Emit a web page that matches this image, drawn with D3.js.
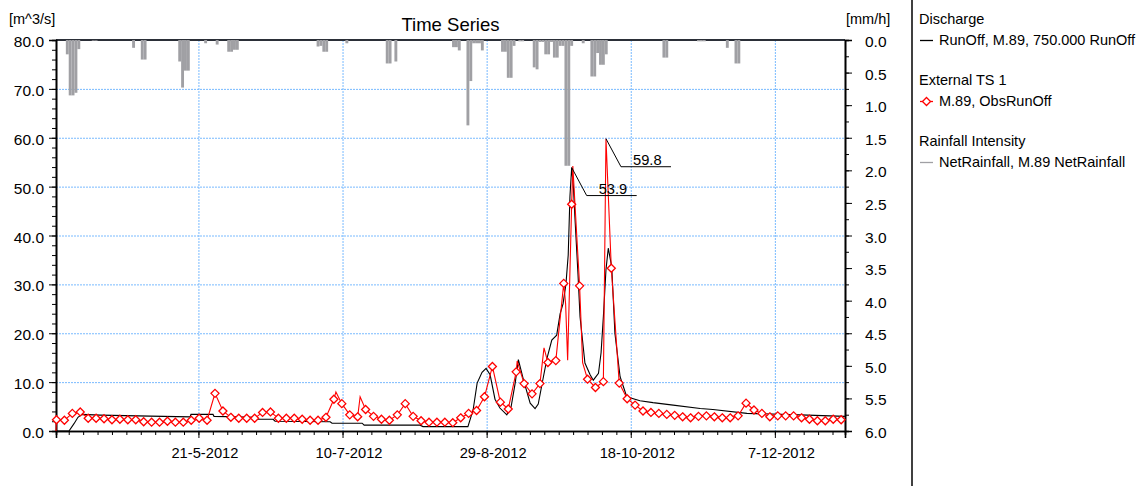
<!DOCTYPE html>
<html>
<head>
<meta charset="utf-8">
<script src="https://cdn.jsdelivr.net/npm/d3@7"></script>
<style>
body { margin: 0; background: #fff; }
svg { font-family: "Liberation Sans", Arial, sans-serif; }
.axis path, .axis line { stroke: #000; }
.axis text { font-size: 14.7px; fill: #000; }
.grid line { stroke: #78baff; stroke-dasharray: 2,1; }
</style>
</head>
<body>
<svg id="chart"></svg>
<script>
// days counted from 1-4-2012 00:00
var rainDays = [4, 5, 6, 7, 8, 13, 14, 27, 30, 31, 43, 44, 45, 46, 52, 56, 60, 61, 62, 63,
    91, 92, 93, 94, 101, 115, 116, 118, 138, 139, 140, 143, 144, 145, 146, 147, 148,
    155, 156, 157, 158, 159, 161, 162, 166, 167, 168, 169, 170, 171, 172, 173, 174, 175,
    176, 177, 178, 179, 183, 186, 187, 188, 189, 190, 191, 211, 212, 223, 224, 225, 233, 236, 237]
var rainVals = [0.22, 0.85, 0.85, 0.81, 0.14, 0.01, 0.01, 0.12, 0.30, 0.30, 0.33, 0.73, 0.47, 0.47, 0.05, 0.07, 0.18, 0.18, 0.15, 0.15,
    0.10, 0.09, 0.18, 0.18, 0.05, 0.36, 0.36, 0.33, 0.11, 0.11, 0.16, 1.31, 0.63, 0.05, 0.05, 0.05, 0.16,
    0.18, 0.18, 0.58, 0.58, 0.09, 0.02, 0.02, 0.42, 0.45, 0.03, 0.03, 0.22, 0.22, 0.03, 0.27, 0.27, 0.09,
    0.09, 1.93, 1.93, 0.09, 0.05, 0.56, 0.56, 0.20, 0.38, 0.38, 0.22, 0.27, 0.27, 0.02, 0.02, 0.02, 0.12, 0.36, 0.36]

var simDays = [0.58, 5.09, 6.83, 8.2, 9.6, 15.85, 33.2, 47.1, 47.4, 55.06, 55.4, 70.0, 70.3, 75.9, 76.6,
    95.7, 96.35, 106.8, 107.5, 126.9, 127.9, 143.5, 145.3, 146.7, 148.4, 149.8, 151.2, 152.9, 154.6,
    157.0, 158.5, 159.9, 161.0, 162.8, 165.1, 166.8, 167.9, 169.7, 171.0, 172.6, 174.3, 175.5, 176.5,
    177.5, 178.3, 178.9, 179.5, 180.1, 180.6, 181.7, 182.4, 184.1, 185.9, 187.0, 188.8, 189.7, 190.5,
    191.4, 192.2, 193.4, 194.5, 196.3, 198.6, 203.2, 207.7, 214.7, 224.1, 228.5, 240.3, 258.7, 274.3]
var simVals = [0, 0, 1.5, 2.8, 3.4, 3.25, 3.05, 2.9, 3.4, 3.4, 3.0, 2.8, 2.4, 2.4, 2.0,
    1.9, 1.6, 1.6, 1.2, 1.2, 0.9, 0.9, 4.3, 9.8, 12.0, 12.8, 11.5, 6.5, 4.7,
    3.3, 5.0, 9.8, 14.6, 10.4, 5.7, 4.6, 5.5, 11.1, 15.0, 18.6, 19.6, 24.0, 26.0,
    30.0, 36.0, 48.0, 53.9, 50.0, 44.0, 32.0, 23.4, 13.9, 11.5, 10.4, 11.8, 16.0, 23.4,
    33.0, 37.4, 33.6, 20.0, 11.1, 7.0, 6.2, 5.8, 5.3, 4.6, 4.4, 3.6, 3.3, 3.0]

// observed run-off, marker samples every 2.75 days from day 0.75
var obsStart = 0.75, obsStep = 2.75
var obsVals = [2.3, 2.2, 3.6, 3.9, 2.6, 2.6, 2.5, 2.3, 2.4, 2.3,
    2.3, 1.9, 1.8, 1.8, 2.0, 1.8, 1.8, 2.2, 2.6, 2.2,
    7.7, 4.1, 2.8, 2.6, 2.6, 2.6, 3.8, 3.9, 2.6, 2.6,
    2.6, 2.4, 2.2, 2.2, 2.8, 6.5, 5.6, 3.3, 2.9, 4.4,
    3.0, 2.4, 2.2, 3.3, 5.6, 3.0, 2.1, 1.8, 1.8, 1.8,
    1.7, 2.7, 3.6, 4.2, 7.0, 13.2, 5.9, 4.5, 12.1, 9.7,
    7.6, 9.7, 14.0, 14.4, 30.2, 46.4, 29.7, 10.6, 8.9, 10.1,
    33.3, 9.8, 6.6, 5.3, 4.1, 3.8, 3.6, 3.4, 3.2, 2.9,
    2.7, 3.0, 3.1, 2.9, 2.7, 2.7, 3.1, 5.7, 4.3, 3.6,
    2.9, 3.1, 3.1, 3.1, 2.7, 2.4, 2.1, 2.1, 2.4, 2.3]
// observed values between marker samples
var obsExtraDays = [0.58, 97.7, 106.1, 160.6, 169.9, 177.4, 178.1, 179.9, 183.3, 191.4]
var obsExtraVals = [0, 8.0, 7.0, 14.3, 17.0, 26.0, 14.5, 54.2, 14.0, 59.8]

var qTicks = [0, 10, 20, 30, 40, 50, 60, 70, 80]
var rTicks = [0, 0.5, 1, 1.5, 2, 2.5, 3, 3.5, 4, 4.5, 5, 5.5, 6]

var width = 1145, height = 486
var plotL = 56, plotR = 845, plotT = 40, plotB = 431

var svg = d3.select("#chart")
    .attr("width", width)
    .attr("height", height)

var t0 = Date.UTC(2012, 3, 1)
function day(d) { return new Date(t0 + d * 864e5) }

var x = d3.scaleUtc()
    .domain([new Date(Date.UTC(2012, 3, 1, 14)), new Date(Date.UTC(2012, 11, 31, 8))])
    .range([plotL, plotR])
var y = d3.scaleLinear().domain([0, 80]).range([plotB, plotT])
var yr = d3.scaleLinear().domain([0, 6]).range([plotT, plotB])

var majorDates = d3.range(0, 5).map(function(k) { return new Date(Date.UTC(2012, 4, 21) + k * 50 * 864e5) })
var minorDates = d3.range(-9, 45).map(function(k) { return new Date(Date.UTC(2012, 4, 21) + k * 5 * 864e5) })
    .filter(function(d) { return d >= x.domain()[0] && d <= x.domain()[1] })

// grid
var grid = svg.append("g").attr("class", "grid")
grid.selectAll("line.h")
    .data(qTicks.filter(function(v) { return v > 0 && v < 80 }))
    .enter().append("line")
    .attr("x1", plotL).attr("x2", plotR)
    .attr("y1", function(d) { return y(d) + 0.5 }).attr("y2", function(d) { return y(d) + 0.5 })
grid.selectAll("line.v")
    .data(majorDates)
    .enter().append("line")
    .attr("y1", plotT).attr("y2", plotB)
    .attr("x1", function(d) { return x(d) + 0.5 }).attr("x2", function(d) { return x(d) + 0.5 })

// top border
svg.append("line")
    .attr("x1", plotL).attr("x2", plotR)
    .attr("y1", plotT).attr("y2", plotT)
    .attr("stroke", "#2b2f38").attr("stroke-width", 2)

// rainfall bars hanging from the top
svg.append("g").selectAll("rect")
    .data(rainDays.map(function(d, i) { return [d, rainVals[i]] }))
    .enter().append("rect")
    .attr("x", function(d) { return x(day(d[0])) })
    .attr("width", function(d) { return x(day(d[0] + 1)) - x(day(d[0])) })
    .attr("y", plotT)
    .attr("height", function(d) { return yr(d[1]) - plotT })
    .attr("fill", "#a0a0a4")

// axes
var gl = svg.append("g").attr("class", "axis")
    .attr("transform", "translate(" + plotL + ",0)")
    .call(d3.axisLeft(y).tickValues(qTicks).tickFormat(d3.format(".1f")).tickSize(7).tickPadding(5))
gl.selectAll("text").attr("dy", "0.42em").style("font-size", "15.5px")
svg.append("g").attr("class", "axis")
    .attr("transform", "translate(" + plotL + ",0)")
    .call(d3.axisLeft(y).tickValues(d3.range(0, 81, 2)).tickFormat("").tickSize(4))

var gr = svg.append("g").attr("class", "axis")
    .attr("transform", "translate(" + plotR + ",0)")
    .call(d3.axisRight(yr).tickValues(rTicks).tickFormat(d3.format(".1f")).tickSize(7).tickPadding(13))
gr.selectAll("text").attr("dy", "0.42em").style("font-size", "15.5px")
svg.append("g").attr("class", "axis")
    .attr("transform", "translate(" + plotR + ",0)")
    .call(d3.axisRight(yr).tickValues(d3.range(0, 6.01, 0.25)).tickFormat("").tickSize(4))

var gb = svg.append("g").attr("class", "axis")
    .attr("transform", "translate(0," + plotB + ")")
    .call(d3.axisBottom(x).tickValues(majorDates).tickFormat(d3.utcFormat("%-d-%-m-%Y")).tickSize(7).tickPadding(10))
gb.selectAll("text").attr("dx", 6)
svg.append("g").attr("class", "axis")
    .attr("transform", "translate(0," + plotB + ")")
    .call(d3.axisBottom(x).tickValues(minorDates).tickFormat("").tickSize(4))

svg.selectAll(".axis .domain").attr("stroke-width", 1.6)

// simulated run-off
var simData = simDays.map(function(d, i) { return [day(d), simVals[i]] })
var line = d3.line()
    .x(function(d) { return x(d[0]) })
    .y(function(d) { return y(d[1]) })

svg.append("path")
    .datum(simData)
    .attr("fill", "none")
    .attr("stroke", "#000")
    .attr("stroke-width", 1.1)
    .attr("d", line)

// observed run-off
var obsMarks = obsVals.map(function(v, i) { return [day(obsStart + i * obsStep), v] })
var obsData = obsMarks.concat(obsExtraDays.map(function(d, i) { return [day(d), obsExtraVals[i]] }))
    .sort(function(a, b) { return a[0] - b[0] })

svg.append("path")
    .datum(obsData)
    .attr("fill", "none")
    .attr("stroke", "#ff0000")
    .attr("stroke-width", 1.1)
    .attr("d", line)

var diamond = "M0,-4L4,0L0,4L-4,0Z"
svg.append("g").selectAll("path")
    .data(obsMarks)
    .enter().append("path")
    .attr("d", diamond)
    .attr("transform", function(d) { return "translate(" + x(d[0]) + "," + y(d[1]) + ")" })
    .attr("fill", "#fff")
    .attr("stroke", "#ff0000")
    .attr("stroke-width", 1.3)

// peak labels
function peakLabel(data) {
    var p = d3.greatest(data, function(d) { return d[1] })
    var px = x(p[0]), py = y(p[1])
    var g = svg.append("g")
    g.append("path")
        .attr("d", "M" + px + "," + py + "L" + (px + 15) + "," + (py + 28) + "L" + (px + 65) + "," + (py + 28))
        .attr("fill", "none")
        .attr("stroke", "#000")
        .attr("stroke-width", 1)
    g.append("text")
        .attr("x", px + 27)
        .attr("y", py + 26)
        .style("font-size", "14.7px")
        .text(d3.format(".1f")(p[1]))
}
peakLabel(simData)
peakLabel(obsData)

// titles
svg.append("text")
    .attr("x", (plotL + plotR) / 2)
    .attr("y", 31)
    .attr("text-anchor", "middle")
    .style("font-size", "18.5px")
    .text("Time Series")
svg.append("text")
    .attr("x", 9)
    .attr("y", 24)
    .style("font-size", "14.5px")
    .text("[m^3/s]")
svg.append("text")
    .attr("x", 846)
    .attr("y", 24)
    .style("font-size", "14.5px")
    .text("[mm/h]")

// legend
svg.append("line")
    .attr("x1", 912).attr("x2", 912)
    .attr("y1", 0).attr("y2", height)
    .attr("stroke", "#000").attr("stroke-width", 1.5)

var legendItems = [
    {group: "Discharge", name: "RunOff, M.89, 750.000 RunOff", color: "#000", marker: false},
    {group: "External TS 1", name: "M.89, ObsRunOff", color: "#ff0000", marker: true},
    {group: "Rainfall Intensity", name: "NetRainfall, M.89 NetRainfall", color: "#a0a0a4", marker: false}
]
var lg = svg.append("g").selectAll("g")
    .data(legendItems)
    .enter().append("g")
    .attr("transform", function(d, i) { return "translate(918," + (24 + i * 61) + ")" })
lg.append("text")
    .attr("x", 1)
    .style("font-size", "14.5px")
    .text(function(d) { return d.group })
lg.append("line")
    .attr("x1", 2).attr("x2", 15)
    .attr("y1", 16.5).attr("y2", 16.5)
    .attr("stroke", function(d) { return d.color })
    .attr("stroke-width", 1.3)
lg.filter(function(d) { return d.marker }).append("path")
    .attr("d", diamond)
    .attr("transform", "translate(8.5,16.5)")
    .attr("fill", "#fff")
    .attr("stroke", "#ff0000")
    .attr("stroke-width", 1.3)
lg.append("text")
    .attr("x", 21)
    .attr("y", 21)
    .style("font-size", "14.5px")
    .text(function(d) { return d.name })
</script>
</body>
</html>
